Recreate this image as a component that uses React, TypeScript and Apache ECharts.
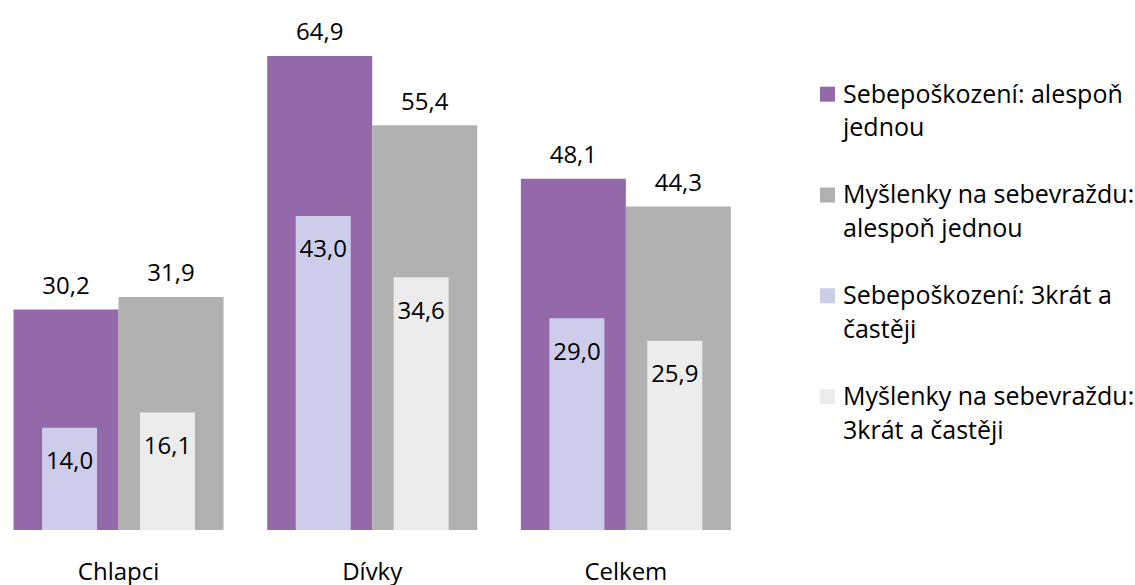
import React, { useEffect, useRef } from "react";
import * as echarts from "echarts";

const categories = ["Chlapci", "Dívky", "Celkem"];
const seriesNames = [
  "Sebepoškození: alespoň\njednou",
  "Myšlenky na sebevraždu:\nalespoň jednou",
  "Sebepoškození: 3krát a\nčastěji",
  "Myšlenky na sebevraždu:\n3krát a častěji",
];
const selfHarmOnce = [30.2, 64.9, 48.1];
const suicidalOnce = [31.9, 55.4, 44.3];
const selfHarm3 = [14.0, 43.0, 29.0];
const suicidal3 = [16.1, 34.6, 25.9];
const colors = ["#9369A9", "#B0B0B0", "#CDCDEB", "#ECECEC"];

const FONT = "'Open Sans', 'Noto Sans', sans-serif";
const fmt = (p: any) => Number(p.value).toFixed(1).replace(".", ",");

export default function App() {
  const ref = useRef<HTMLDivElement>(null);
  useEffect(() => {
    if (!ref.current) return;
    const chart = echarts.init(ref.current, null, { renderer: "svg" });
    const wideLabel = {
      show: true,
      position: "top",
      distance: 13,
      color: "#000",
      fontSize: 24,
      fontFamily: FONT,
      formatter: fmt,
    };
    const narrowLabel = {
      show: true,
      position: "insideTop",
      distance: 20,
      color: "#000",
      fontSize: 24,
      fontFamily: FONT,
      formatter: fmt,
    };
    chart.setOption({
      animation: false,
      backgroundColor: "#fff",
      grid: {
        left: -8.3,
        width: 761,
        top: 18.7,
        height: 511.3,
        outerBoundsMode: "none",
        containLabel: false,
      },
      legend: {
        orient: "vertical",
        left: 820,
        top: 75.5,
        padding: 0,
        itemGap: 32.8,
        itemWidth: 18,
        itemHeight: 45.6,
        icon: "path://M0,0L15,0L15,15L0,15Z M18,45.6L18,45.6",
        textStyle: {
          fontSize: 25,
          lineHeight: 34,
          color: "#000",
          fontFamily: FONT,
        },
        itemStyle: { borderWidth: 0 },
      },
      xAxis: [
        {
          type: "category",
          data: categories,
          axisLine: { show: false },
          axisTick: { show: false },
          axisLabel: {
            fontSize: 24,
            color: "#000",
            fontFamily: FONT,
            margin: 28,
          },
        },
        {
          type: "category",
          data: categories,
          show: false,
        },
      ],
      yAxis: {
        type: "value",
        min: 0,
        max: 70,
        show: false,
        splitLine: { show: false },
      },
      series: [
        {
          name: seriesNames[0],
          type: "bar",
          xAxisIndex: 0,
          data: selfHarmOnce,
          barWidth: 105,
          barGap: "0%",
          itemStyle: { color: colors[0] },
          label: wideLabel,
        },
        {
          name: seriesNames[1],
          type: "bar",
          xAxisIndex: 0,
          data: suicidalOnce,
          barWidth: 105,
          barGap: "0%",
          itemStyle: { color: colors[1] },
          label: wideLabel,
        },
        {
          name: seriesNames[2],
          type: "bar",
          xAxisIndex: 1,
          data: selfHarm3,
          barWidth: 55,
          barGap: "78%",
          itemStyle: { color: colors[2] },
          label: narrowLabel,
        },
        {
          name: seriesNames[3],
          type: "bar",
          xAxisIndex: 1,
          data: suicidal3,
          barWidth: 55,
          barGap: "78%",
          itemStyle: { color: colors[3] },
          label: narrowLabel,
        },
      ],
    });
    return () => chart.dispose();
  }, []);
  return (
    <div
      ref={ref}
      style={{ position: "absolute", left: 0, top: 0, width: 1135, height: 585 }}
    />
  );
}
